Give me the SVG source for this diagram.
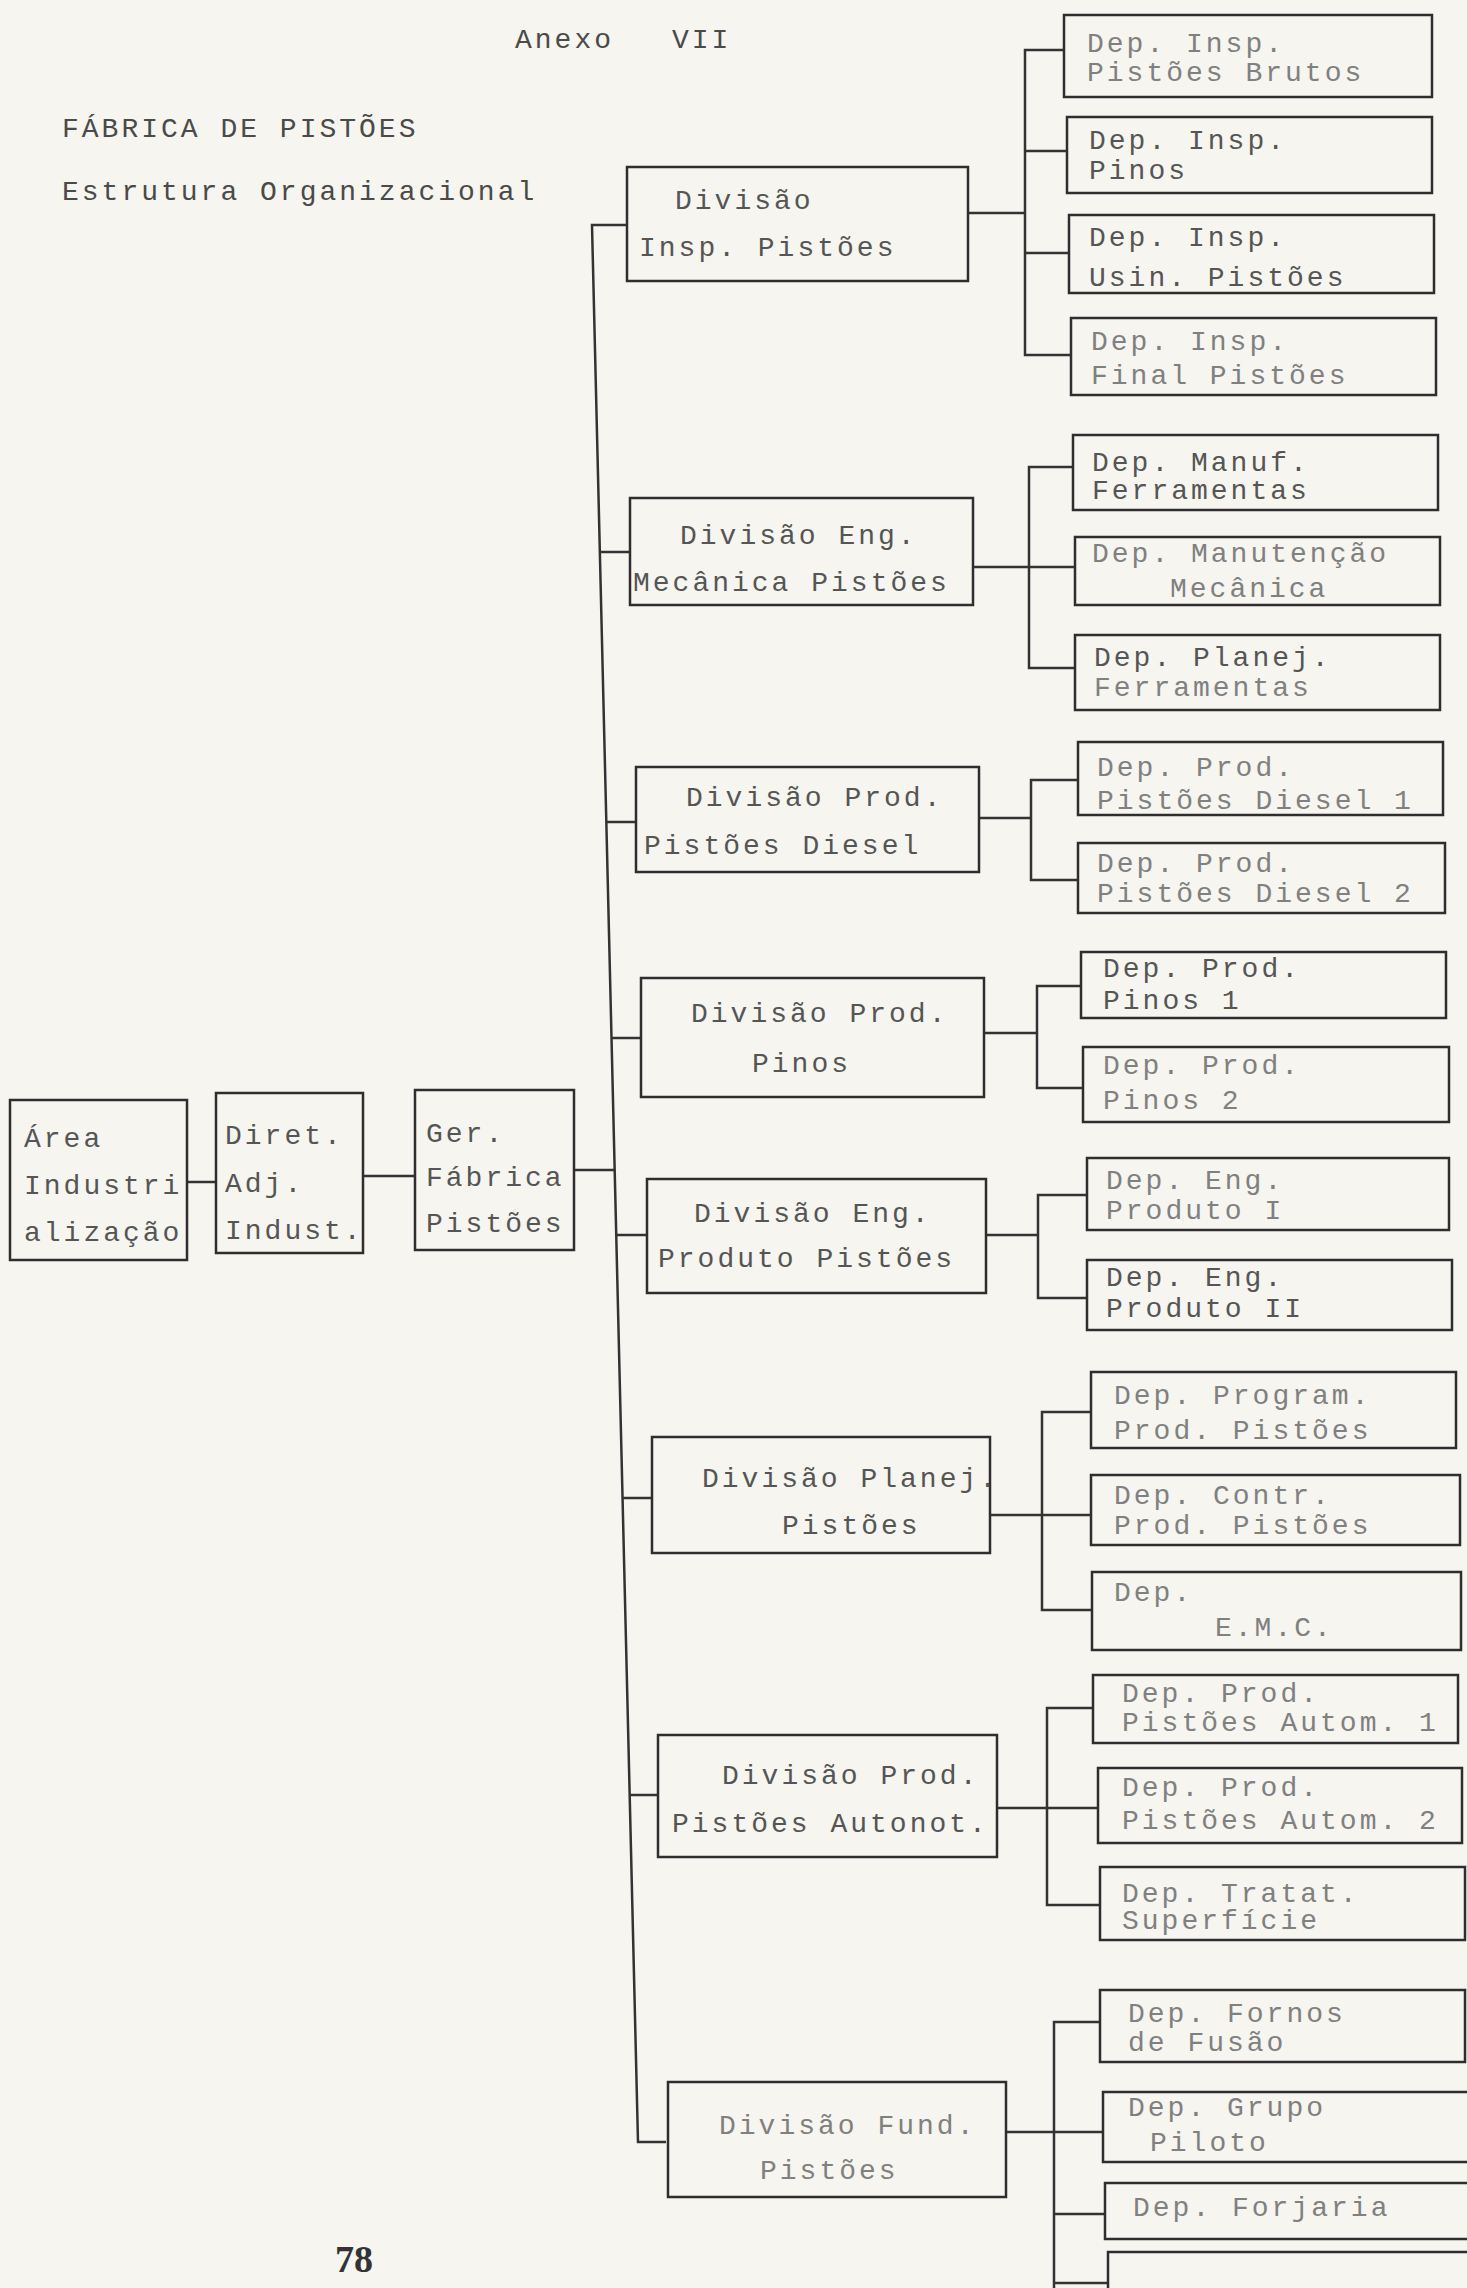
<svg xmlns="http://www.w3.org/2000/svg" width="1467" height="2288" viewBox="0 0 1467 2288">
<style>
.bg{fill:#f6f5ef}
.box{fill:none;stroke:#2e2e2e;stroke-width:2.5}
.ln{fill:none;stroke:#333;stroke-width:2.5}
text{font-family:"Liberation Mono","DejaVu Sans Mono",monospace;font-size:28px;letter-spacing:3px;fill:#555}
.f{fill:#808080}
.h{fill:#4a4a4a}
.pg{font-family:"Liberation Serif",serif;font-weight:bold;font-size:38px;letter-spacing:0;fill:#333}
</style>
<rect class="bg" x="0" y="0" width="1467" height="2288"/>

<g id="titles">
<text class="h" x="515" y="48">Anexo</text>
<text class="h" x="672" y="48">VII</text>
<text class="h" x="62" y="137">FÁBRICA DE PISTÕES</text>
<text class="h" x="62" y="200">Estrutura Organizacional</text>
<text class="pg" x="335" y="2272">78</text>
</g>

<g id="connectors">
<!-- left chain -->
<line class="ln" x1="187" y1="1182" x2="216" y2="1182"/>
<line class="ln" x1="363" y1="1176" x2="415" y2="1176"/>
<line class="ln" x1="574" y1="1170" x2="615" y2="1170"/>
<!-- main bus -->
<polyline class="ln" points="627,225 592,225 638,2142 666,2142"/>
<line class="ln" x1="600" y1="552" x2="630" y2="552"/>
<line class="ln" x1="606" y1="822" x2="636" y2="822"/>
<line class="ln" x1="611" y1="1038" x2="641" y2="1038"/>
<line class="ln" x1="616" y1="1235" x2="647" y2="1235"/>
<line class="ln" x1="622" y1="1498" x2="652" y2="1498"/>
<line class="ln" x1="630" y1="1795" x2="658" y2="1795"/>
<!-- group 1 -->
<line class="ln" x1="968" y1="213" x2="1025" y2="213"/>
<polyline class="ln" points="1064,50 1025,50 1025,355 1071,355"/>
<line class="ln" x1="1025" y1="151" x2="1067" y2="151"/>
<line class="ln" x1="1025" y1="253" x2="1069" y2="253"/>
<!-- group 2 -->
<line class="ln" x1="973" y1="567" x2="1075" y2="567"/>
<polyline class="ln" points="1073,467 1029,467 1029,668 1075,668"/>
<!-- group 3 -->
<line class="ln" x1="979" y1="818" x2="1031" y2="818"/>
<polyline class="ln" points="1078,780 1031,780 1031,880 1078,880"/>
<!-- group 4 -->
<line class="ln" x1="984" y1="1033" x2="1037" y2="1033"/>
<polyline class="ln" points="1081,986 1037,986 1037,1088 1083,1088"/>
<!-- group 5 -->
<line class="ln" x1="986" y1="1235" x2="1038" y2="1235"/>
<polyline class="ln" points="1087,1195 1038,1195 1038,1298 1087,1298"/>
<!-- group 6 -->
<line class="ln" x1="990" y1="1515" x2="1091" y2="1515"/>
<polyline class="ln" points="1091,1412 1042,1412 1042,1610 1092,1610"/>
<!-- group 7 -->
<line class="ln" x1="997" y1="1808" x2="1098" y2="1808"/>
<polyline class="ln" points="1093,1708 1047,1708 1047,1905 1100,1905"/>
<!-- group 8 -->
<line class="ln" x1="1006" y1="2132" x2="1103" y2="2132"/>
<polyline class="ln" points="1100,2022 1054,2022 1054,2288"/>
<line class="ln" x1="1054" y1="2214" x2="1105" y2="2214"/>
<line class="ln" x1="1054" y1="2283" x2="1108" y2="2283"/>
</g>

<g id="area"><rect class="box" x="10" y="1100" width="177" height="160"/>
<text x="24" y="1147">Área</text><text x="24" y="1194">Industri</text><text x="24" y="1241">alização</text></g>
<g id="diret"><rect class="box" x="216" y="1093" width="147" height="160"/>
<text x="225" y="1144">Diret.</text><text x="225" y="1192">Adj.</text><text x="225" y="1239">Indust.</text></g>
<g id="ger"><rect class="box" x="415" y="1090" width="159" height="160"/>
<text x="426" y="1142">Ger.</text><text x="426" y="1186">Fábrica</text><text x="426" y="1232">Pistões</text></g>

<g id="div1"><rect class="box" x="627" y="167" width="341" height="114"/>
<text x="675" y="209">Divisão</text><text x="639" y="256">Insp. Pistões</text></g>
<g id="div2"><rect class="box" x="630" y="498" width="343" height="107"/>
<text x="680" y="544">Divisão Eng.</text><text x="633" y="591">Mecânica Pistões</text></g>
<g id="div3"><rect class="box" x="636" y="767" width="343" height="105"/>
<text x="686" y="806">Divisão Prod.</text><text x="644" y="854">Pistões Diesel</text></g>
<g id="div4"><rect class="box" x="641" y="978" width="343" height="119"/>
<text x="691" y="1022">Divisão Prod.</text><text x="752" y="1072">Pinos</text></g>
<g id="div5"><rect class="box" x="647" y="1179" width="339" height="114"/>
<text x="694" y="1222">Divisão Eng.</text><text x="658" y="1267">Produto Pistões</text></g>
<g id="div6"><rect class="box" x="652" y="1437" width="338" height="116"/>
<text x="702" y="1487">Divisão Planej.</text><text x="782" y="1534">Pistões</text></g>
<g id="div7"><rect class="box" x="658" y="1735" width="339" height="122"/>
<text x="722" y="1784">Divisão Prod.</text><text x="672" y="1832">Pistões Autonot.</text></g>
<g id="div8"><rect class="box" x="668" y="2082" width="338" height="115"/>
<text class="f" x="719" y="2134">Divisão Fund.</text><text class="f" x="760" y="2179">Pistões</text></g>

<g id="dep1"><rect class="box" x="1064" y="15" width="368" height="82"/>
<text class="f" x="1087" y="52">Dep. Insp.</text><text class="f" x="1087" y="81">Pistões Brutos</text></g>
<g id="dep2"><rect class="box" x="1067" y="117" width="365" height="76"/>
<text x="1089" y="149">Dep. Insp.</text><text x="1089" y="179">Pinos</text></g>
<g id="dep3"><rect class="box" x="1069" y="215" width="365" height="78"/>
<text x="1089" y="246">Dep. Insp.</text><text x="1089" y="286">Usin. Pistões</text></g>
<g id="dep4"><rect class="box" x="1071" y="318" width="365" height="77"/>
<text class="f" x="1091" y="350">Dep. Insp.</text><text class="f" x="1091" y="384">Final Pistões</text></g>
<g id="dep5"><rect class="box" x="1073" y="435" width="365" height="75"/>
<text x="1092" y="471">Dep. Manuf.</text><text x="1092" y="499">Ferramentas</text></g>
<g id="dep6"><rect class="box" x="1075" y="537" width="365" height="68"/>
<text class="f" x="1092" y="562">Dep. Manutenção</text><text class="f" x="1170" y="597">Mecânica</text></g>
<g id="dep7"><rect class="box" x="1075" y="635" width="365" height="75"/>
<text x="1094" y="666">Dep. Planej.</text><text class="f" x="1094" y="696">Ferramentas</text></g>
<g id="dep8"><rect class="box" x="1078" y="742" width="365" height="73"/>
<text class="f" x="1097" y="776">Dep. Prod.</text><text class="f" x="1097" y="809">Pistões Diesel 1</text></g>
<g id="dep9"><rect class="box" x="1078" y="843" width="367" height="70"/>
<text class="f" x="1097" y="872">Dep. Prod.</text><text class="f" x="1097" y="902">Pistões Diesel 2</text></g>
<g id="dep10"><rect class="box" x="1081" y="952" width="365" height="66"/>
<text x="1103" y="977">Dep. Prod.</text><text x="1103" y="1009">Pinos 1</text></g>
<g id="dep11"><rect class="box" x="1083" y="1047" width="366" height="75"/>
<text class="f" x="1103" y="1074">Dep. Prod.</text><text class="f" x="1103" y="1109">Pinos 2</text></g>
<g id="dep12"><rect class="box" x="1087" y="1158" width="362" height="72"/>
<text class="f" x="1106" y="1189">Dep. Eng.</text><text class="f" x="1106" y="1219">Produto I</text></g>
<g id="dep13"><rect class="box" x="1087" y="1260" width="365" height="70"/>
<text x="1106" y="1286">Dep. Eng.</text><text x="1106" y="1317">Produto II</text></g>
<g id="dep14"><rect class="box" x="1091" y="1372" width="365" height="76"/>
<text class="f" x="1114" y="1404">Dep. Program.</text><text class="f" x="1114" y="1439">Prod. Pistões</text></g>
<g id="dep15"><rect class="box" x="1091" y="1475" width="369" height="70"/>
<text class="f" x="1114" y="1504">Dep. Contr.</text><text class="f" x="1114" y="1534">Prod. Pistões</text></g>
<g id="dep16"><rect class="box" x="1092" y="1572" width="369" height="78"/>
<text class="f" x="1114" y="1601">Dep.</text><text class="f" x="1215" y="1636">E.M.C.</text></g>
<g id="dep17"><rect class="box" x="1093" y="1675" width="365" height="68"/>
<text class="f" x="1122" y="1702">Dep. Prod.</text><text class="f" x="1122" y="1731">Pistões Autom. 1</text></g>
<g id="dep18"><rect class="box" x="1098" y="1768" width="364" height="75"/>
<text class="f" x="1122" y="1796">Dep. Prod.</text><text class="f" x="1122" y="1829">Pistões Autom. 2</text></g>
<g id="dep19"><rect class="box" x="1100" y="1867" width="365" height="73"/>
<text class="f" x="1122" y="1902">Dep. Tratat.</text><text class="f" x="1122" y="1929">Superfície</text></g>
<g id="dep20"><rect class="box" x="1100" y="1990" width="365" height="72"/>
<text class="f" x="1128" y="2022">Dep. Fornos</text><text class="f" x="1128" y="2051">de Fusão</text></g>
<g id="dep21"><rect class="box" x="1103" y="2092" width="366" height="70"/>
<text class="f" x="1128" y="2116">Dep. Grupo</text><text class="f" x="1150" y="2151">Piloto</text></g>
<g id="dep22"><rect class="box" x="1105" y="2183" width="364" height="56"/>
<text class="f" x="1133" y="2216">Dep. Forjaria</text></g>
<g id="dep23"><rect class="box" x="1108" y="2252" width="361" height="60"/></g>
</svg>
